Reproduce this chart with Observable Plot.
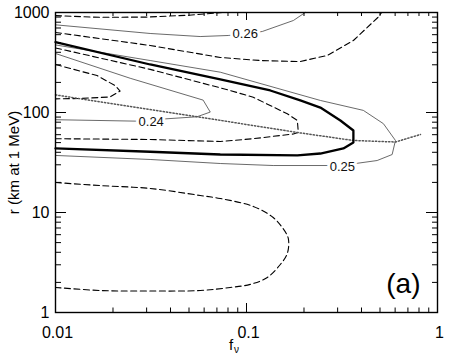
<!DOCTYPE html>
<html><head><meta charset="utf-8">
<script src="https://cdn.jsdelivr.net/npm/d3@7"></script>
<script src="https://cdn.jsdelivr.net/npm/@observablehq/plot@0.6"></script>
<style>body{margin:0;background:#fff}</style>
</head><body><div id="chart"></div>
<script>
// ---- tick values and labels ----
const xMajor = [0.01, 0.1, 1];
const xMajorLabels = ["0.01", "0.1", "1"];
const xMinor = [0.02,0.03,0.04,0.05,0.06,0.07,0.08,0.09,0.2,0.3,0.4,0.5,0.6,0.7,0.8,0.9];
const yMajor = [1, 10, 100, 1000];
const yMajorLabels = ["1", "10", "100", "1000"];
const yMinor = [2,3,4,5,6,7,8,9,20,30,40,50,60,70,80,90,200,300,400,500,600,700,800,900];

const yLabel = "r (km at 1 MeV)";
const xLabelMain = "f";
const xLabelSub = "ν";
const panelLabel = "(a)";

// ---- contour traces: [f_nu, r] ----
const dashedTop   = [[0.01,930],[0.017,895],[0.03,900],[0.05,940],[0.075,1000]];
const thin026     = [[0.01,753],[0.0313,617],[0.0572,575],[0.0802,589],[0.0985,610],[0.121,646],[0.176,832],[0.203,1000]];
const dashedUpper = [[0.01,631],[0.0313,468],[0.0729,355],[0.118,331],[0.19,323],[0.265,372],[0.3628,525],[0.487,891],[0.51,1000]];
const thickLine   = [[0.01,506],[0.0313,302],[0.0729,214],[0.1332,166],[0.1913,132],[0.2436,112],[0.3101,83.2],[0.3628,66.1],[0.3628,50.1],[0.3216,43.7],[0.2436,38.9],[0.1846,37.2],[0.0729,38.0],[0.0313,40.5],[0.01,43.7]];
const thin025     = [[0.01,474],[0.0313,331],[0.0729,253],[0.2436,132],[0.409,105],[0.521,77.3],[0.6024,52.5],[0.5788,38.0],[0.483,33.1],[0.3638,30.7],[0.2748,29.5],[0.138,29.5],[0.0729,30.9],[0.0313,33.9],[0.01,37.2]];
const dashedInner = [[0.01,442],[0.0313,270],[0.0822,166],[0.1085,142],[0.1635,97.1],[0.1846,83.2],[0.1868,63.3],[0.1759,61.0],[0.1085,54.7],[0.0729,51.3],[0.0313,53.7],[0.01,54.7]];
const thin024     = [[0.01,389],[0.0246,220],[0.0593,133],[0.0646,101],[0.055,90.6],[0.0367,86.1],[0.0271,81.9],[0.01,84.7]];
const dashedNose  = [[0.01,302],[0.0165,234],[0.0205,186],[0.0218,164],[0.0193,143],[0.0134,138],[0.01,137]];
const dashedLower = [[0.01,19.95],[0.0171,18.6],[0.0313,17.4],[0.0572,14.8],[0.0729,13.8],[0.1085,11.5],[0.138,8.91],[0.1539,7.08],[0.1655,5.5],[0.1635,3.89],[0.1503,3.02],[0.1285,2.24],[0.1046,1.91],[0.0822,1.78],[0.0572,1.66],[0.0302,1.64],[0.0171,1.66],[0.01,1.78]];
const dottedLine  = [[0.01,150],[0.0313,107],[0.0822,80.5],[0.1846,63.1],[0.3628,52.5],[0.6024,50.7],[0.8148,60.3]];

const labelF = [0.0985, 0.0317, 0.3177];
const labelR = [617, 80, 28.8];
const labelText = ["0.26", "0.24", "0.25"];

// ---- build tables ----
const contours = [
  {pts: dashedTop, kind: "dashed"},
  {pts: thin026, kind: "thin"},
  {pts: dashedUpper, kind: "dashed"},
  {pts: thickLine, kind: "thick"},
  {pts: thin025, kind: "thin"},
  {pts: dashedInner, kind: "dashed"},
  {pts: thin024, kind: "thin"},
  {pts: dashedNose, kind: "dashed"},
  {pts: dashedLower, kind: "smooth"},
  {pts: dottedLine, kind: "dotted"}
];
const rows = contours.flatMap((c, k) => c.pts.map(([f, r]) => ({f, r, k, kind: c.kind})));
const of = kind => rows.filter(d => d.kind === kind);
const labels = labelText.map((t, i) => ({f: labelF[i], r: labelR[i], t}));

const W = 453, H = 354, mL = 55, mR = 16, mT = 12, mB = 42;
const fw = W - mL - mR, fh = H - mT - mB;
const font = "'Liberation Sans', Arial, Helvetica, sans-serif";

const chart = Plot.plot({
  width: W, height: H,
  marginLeft: mL, marginRight: mR, marginTop: mT, marginBottom: mB,
  style: {fontFamily: font, background: "white", color: "black"},
  x: {type: "log", domain: [0.01, 1], axis: null},
  y: {type: "log", domain: [1, 1000], axis: null},
  marks: [
    Plot.line(of("thin"), {x: "f", y: "r", z: "k", stroke: "#444", strokeWidth: 0.8}),
    Plot.line(of("dashed"), {x: "f", y: "r", z: "k", stroke: "black", strokeWidth: 1.1, strokeDasharray: "6,3.5"}),
    Plot.line(of("smooth"), {x: "f", y: "r", z: "k", stroke: "black", strokeWidth: 1.1, strokeDasharray: "6,3.5", curve: "catmull-rom"}),
    Plot.line(of("dotted"), {x: "f", y: "r", z: "k", stroke: "#555", strokeWidth: 1.5, strokeDasharray: "1.3,2"}),
    Plot.line(of("thick"), {x: "f", y: "r", z: "k", stroke: "black", strokeWidth: 2.3}),
    Plot.text(labels, {x: "f", y: "r", text: "t", fontSize: 13, fill: "#111", stroke: "white", strokeWidth: 6}),
    // ticks (inward)
    Plot.ruleX(xMajor, {x: d => d, insetTop: fh - 9, stroke: "black"}),
    Plot.ruleX(xMinor, {x: d => d, insetTop: fh - 4.5, stroke: "black"}),
    Plot.ruleX(xMajor, {x: d => d, insetBottom: fh - 8, stroke: "black"}),
    Plot.ruleX(xMinor, {x: d => d, insetBottom: fh - 4, stroke: "black"}),
    Plot.ruleY(yMajor, {y: d => d, insetRight: fw - 11, stroke: "black"}),
    Plot.ruleY(yMinor, {y: d => d, insetRight: fw - 6, stroke: "black"}),
    Plot.ruleY(yMajor, {y: d => d, insetLeft: fw - 11, stroke: "black"}),
    Plot.ruleY(yMinor, {y: d => d, insetLeft: fw - 5, stroke: "black"}),
    Plot.frame({stroke: "black", strokeWidth: 1.4}),
    // tick labels
    Plot.axisX(xMajor, {tickFormat: d => xMajorLabels[xMajor.indexOf(d)], tickSize: 0, tickPadding: 14, fontSize: 16, label: null, dx: 2}),
    Plot.axisY(yMajor, {tickFormat: d => yMajorLabels[yMajor.indexOf(d)], tickSize: 0, tickPadding: 6, fontSize: 16, label: null}),
    // axis titles & panel label
    Plot.text([yLabel], {frameAnchor: "left", text: d => d, rotate: -90, dx: -36.5, textAnchor: "middle", lineAnchor: "bottom", fontSize: 15}),
    Plot.text([xLabelMain], {frameAnchor: "bottom", text: d => d, dx: -15.5, dy: 37, lineAnchor: "bottom", fontSize: 15}),
    Plot.text([xLabelSub], {frameAnchor: "bottom", text: d => d, dx: -10, dy: 40.5, lineAnchor: "bottom", fontSize: 10}),
    Plot.text([panelLabel], {frameAnchor: "bottom-right", text: d => d, dx: -17, dy: -20, textAnchor: "end", lineAnchor: "bottom", fontSize: 28})
  ]
});
document.getElementById("chart").appendChild(chart);
</script>
</body></html>
